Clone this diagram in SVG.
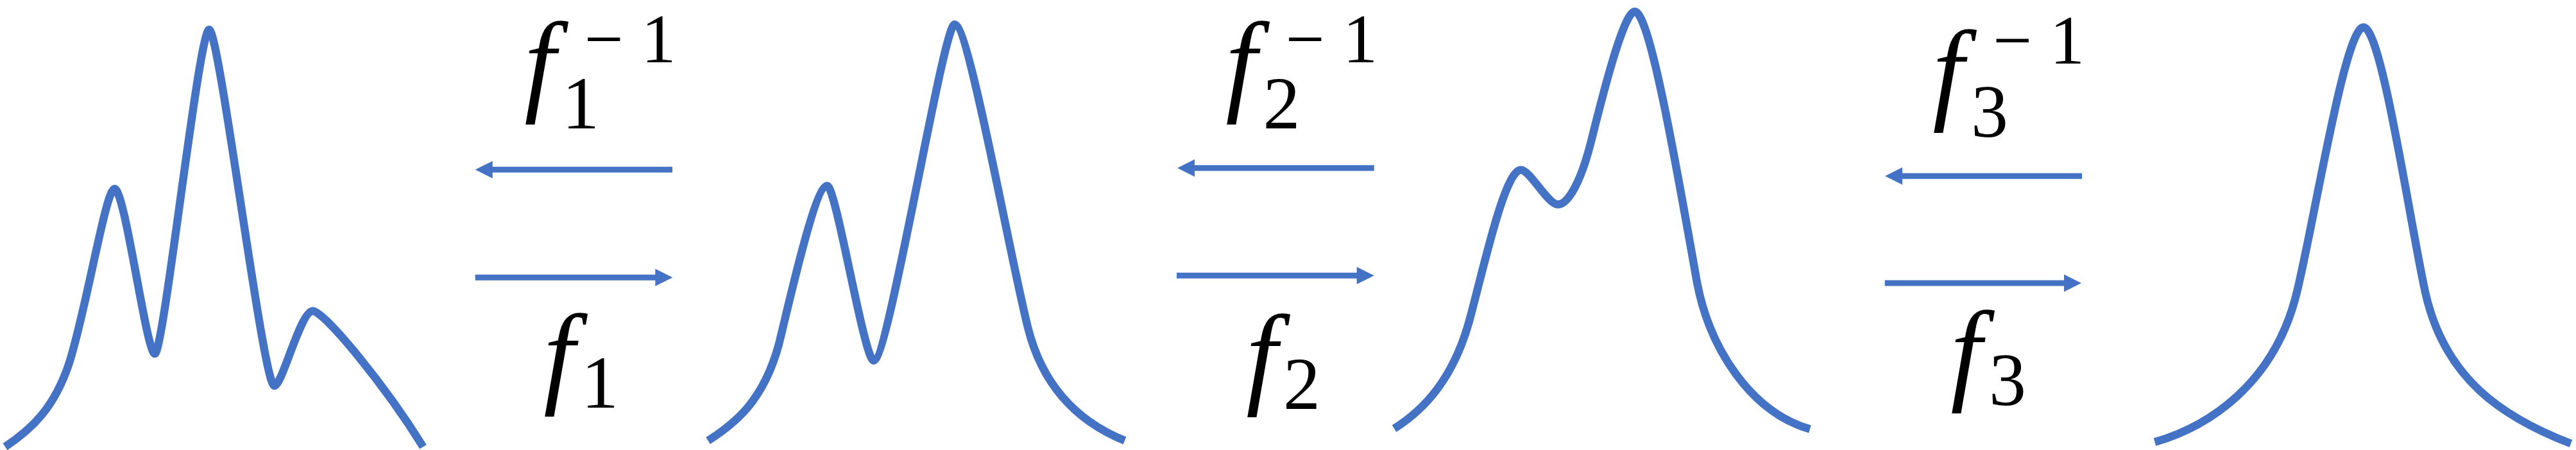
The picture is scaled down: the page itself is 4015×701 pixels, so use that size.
<svg xmlns="http://www.w3.org/2000/svg" width="4015" height="701" viewBox="0 0 4015 701">
<style>
.curve{fill:none;stroke:#4472C4;stroke-width:12.5;stroke-linecap:butt;stroke-linejoin:round}
.arrow{fill:none;stroke:#4472C4;stroke-width:9;stroke-linecap:butt;marker-end:url(#ah)}
.lbl{font-family:"Liberation Serif","Times New Roman",serif;fill:#000;text-anchor:middle}
.fi{font-style:italic;font-size:175px}
.sc{font-size:116px}
.sp{font-size:108px}
</style>
<defs>
<marker id="ah" markerUnits="userSpaceOnUse" orient="auto" markerWidth="29" markerHeight="27" refX="2" refY="13.5" viewBox="0 0 29 27" overflow="visible">
<path d="M0,0 L27,13.5 L0,27 z" fill="#4472C4"/>
</marker>
</defs>
<rect width="4015" height="701" fill="#fff"/>

<g id="dist0">
<path class="curve" d="M8,696 C50,668 85,635 108,565 C135,480 165,294 178.5,294 C195,294 228,551 241.4,551 C255,551 310,46 326,46 C342,46 410,601 427.5,601 C440,601 468,484.5 487.6,484.5 C505,484.5 600,600 659.5,696"/>
</g>
<g id="dist1">
<path class="curve" d="M1103.6,686.4 C1145,660 1190,625 1214,536 C1228,480 1270,289.4 1289.3,289.4 C1303,289.4 1347,561.7 1361.7,561.7 C1385,561.7 1470,38 1487.8,38 C1510,38 1572,390 1602,510 C1622,590 1668,652 1753,686.4"/>
</g>
<g id="dist2">
<path class="curve" d="M2173,667.6 C2220,638 2265,590 2290,500 C2312,420 2345,264.7 2370.4,264.7 C2385,264.7 2412,318.5 2428,318.5 C2445,318.5 2465,280 2480,220 C2495,160 2530,18 2548,18 C2570,18 2608,230 2645,440 C2665,545 2730,642 2821,668.5"/>
</g>
<g id="dist3">
<path class="curve" d="M3358.5,688.6 C3440,665 3545,600 3580,455 C3608,340 3655,42.6 3683.8,42.6 C3712,42.6 3755,340 3780,455 C3810,590 3900,650 4007,691"/>
</g>

<g id="connectors">
<line class="arrow" x1="1048" y1="264.3" x2="765.7" y2="264.3"/>
<line class="arrow" x1="740.7" y1="432.3" x2="1023.3" y2="432.3"/>
<line class="arrow" x1="2141.7" y1="261.7" x2="1860" y2="261.7"/>
<line class="arrow" x1="1834" y1="429.3" x2="2116.7" y2="429.3"/>
<line class="arrow" x1="3245" y1="274.3" x2="2963" y2="274.3"/>
<line class="arrow" x1="2937.7" y1="441" x2="3219" y2="441"/>
</g>

<g id="labels">
<text class="lbl"><tspan class="fi" x="841.5" y="157">f</tspan><tspan class="sc" x="905" y="200">1</tspan><tspan class="sp" x="941" y="97">−</tspan><tspan class="sp" x="1026.5" y="97">1</tspan></text>
<text class="lbl"><tspan class="fi" x="871.5" y="612">f</tspan><tspan class="sc" x="935" y="635">1</tspan></text>
<text class="lbl"><tspan class="fi" x="1934.5" y="157">f</tspan><tspan class="sc" x="1997.5" y="200">2</tspan><tspan class="sp" x="2034" y="97">−</tspan><tspan class="sp" x="2120" y="97">1</tspan></text>
<text class="lbl"><tspan class="fi" x="1966.5" y="613">f</tspan><tspan class="sc" x="2029" y="637">2</tspan></text>
<text class="lbl"><tspan class="fi" x="3036.5" y="170">f</tspan><tspan class="sc" x="3101" y="213">3</tspan><tspan class="sp" x="3136.5" y="99">−</tspan><tspan class="sp" x="3222" y="99">1</tspan></text>
<text class="lbl"><tspan class="fi" x="3064.5" y="607">f</tspan><tspan class="sc" x="3129" y="631">3</tspan></text>
</g>
</svg>
